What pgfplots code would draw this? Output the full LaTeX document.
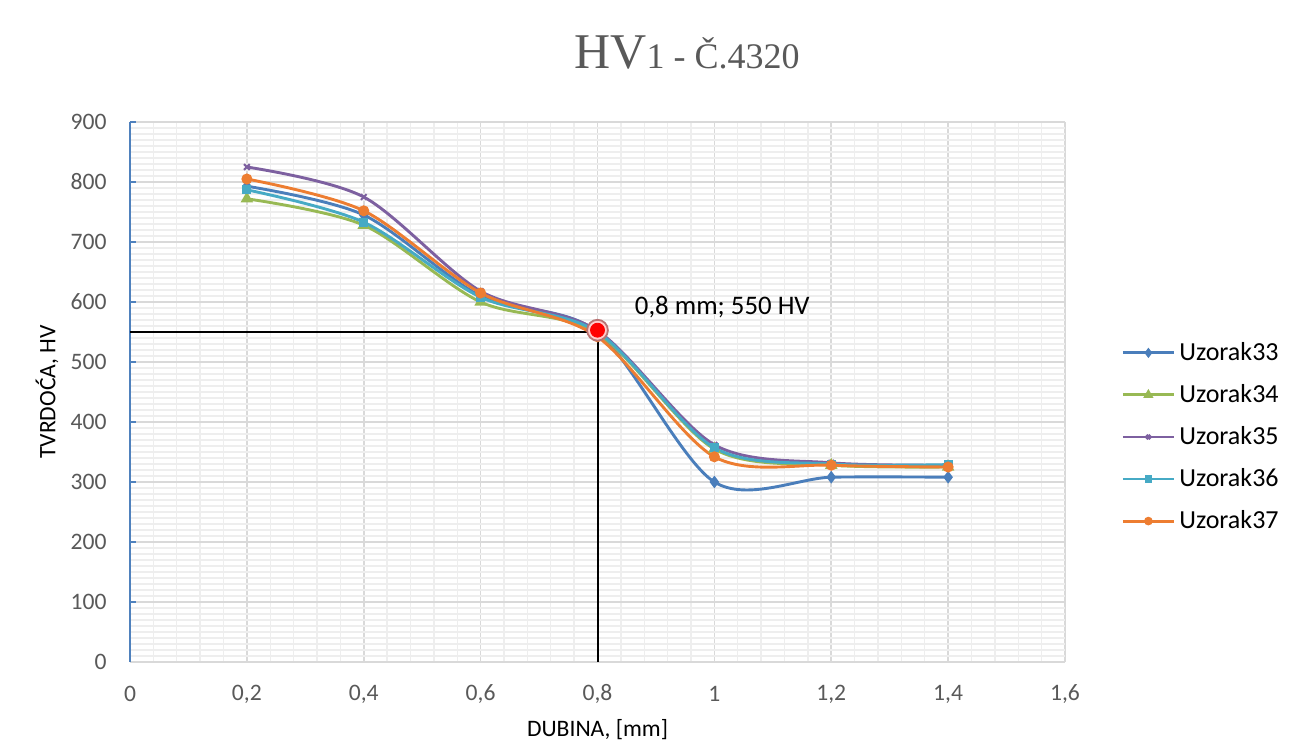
\documentclass[border=0pt]{standalone}
\usepackage{fontspec}
\setmainfont{Carlito}
\newfontfamily\titlefont{Liberation Serif}
\usepackage{pgfplots}
\pgfplotsset{compat=1.18}

\definecolor{c33}{RGB}{74,126,187}
\definecolor{c34}{RGB}{152,185,84}
\definecolor{c35}{RGB}{125,96,160}
\definecolor{c36}{RGB}{70,170,197}
\definecolor{c37}{RGB}{237,125,49}
\definecolor{txtgray}{RGB}{89,89,89}
\definecolor{majgrid}{RGB}{217,217,217}
\definecolor{mingrid}{RGB}{238,238,238}
\definecolor{yaxisblue}{RGB}{79,129,189}

\begin{document}
\begin{tikzpicture}
\path[use as bounding box] (-65pt,-42.5pt) rectangle (590pt,331pt);
\begin{axis}[
    scale only axis,
    width=467.5pt,
    height=270pt,
    xmin=0, xmax=1.6,
    ymin=0, ymax=900,
    xtick={0,0.2,...,1.6},
    ytick={0,100,...,900},
    minor x tick num=4,
    minor y tick num=9,
    grid=both,
    major grid style={draw=majgrid, line width=0.8pt},
    minor grid style={draw=mingrid, line width=0.7pt},
    axis lines=left,
    axis line style={-},
    x axis line style={draw=majgrid, line width=0.8pt},
    y axis line style={draw=yaxisblue, line width=0.9pt},
    tick align=inside,
    major tick length=3pt,
    minor tick length=0pt,
    xtick style={draw=none},
    ytick style={draw=yaxisblue, line width=0.9pt},
    /pgf/number format/assume math mode=true,
    /pgf/number format/use comma,
    ticklabel style={font=\fontsize{11.8}{14}\selectfont, text=txtgray},
    xticklabel style={anchor=center, yshift=-16pt},
    yticklabel style={anchor=east, inner sep=0pt, xshift=-11.5pt},
    xlabel={DUBINA, [mm]},
    ylabel={TVRDOĆA, HV},
    label style={font=\fontsize{11.8}{14}\selectfont},
    xlabel style={at={(axis description cs:0.5,-0.126)}, anchor=center},
    ylabel style={at={(axis description cs:-0.0888,0.5)}, anchor=center},
    title={\titlefont{\fontsize{25}{28}\selectfont HV}{\fontsize{18}{22}\selectfont 1 - Č.4320}},
    title style={at={(axis description cs:0.5957,1.1056)}, anchor=center, text=txtgray},
    legend style={at={(axis description cs:1.0535,0.4167)}, anchor=west,
        draw=none, fill=none, font=\fontsize{13}{15}\selectfont, row sep=6.5pt},
    legend cell align=left,
    legend image code/.code={\draw[#1, line width=1.45pt, mark repeat=2, mark phase=2, mark options={scale=0.7}] plot coordinates {(0pt,0pt) (12.75pt,0pt) (25.5pt,0pt)};},
    every axis plot/.append style={smooth},
]
% guide lines to the 0,8 mm / 550 HV point
\addplot[black, line width=1pt, sharp plot, forget plot] coordinates {(0,550) (0.8,550) (0.8,0)};

\addplot[c33, line width=1.45pt, mark=diamond*, mark size=2pt, mark options={solid}] coordinates {
(0.2,793) (0.4,745) (0.6,610) (0.8,550) (1.0,300) (1.2,308) (1.4,308)};
\addplot[c34, line width=1.45pt, mark=triangle*, mark size=2.2pt, mark options={solid}] coordinates {
(0.2,772) (0.4,728) (0.6,600) (0.8,548) (1.0,355) (1.2,328) (1.4,325)};
\addplot[c35, line width=1.45pt, mark=x, mark size=2pt, mark options={solid, line width=1pt}] coordinates {
(0.2,825) (0.4,775) (0.6,618) (0.8,552) (1.0,362) (1.2,332) (1.4,328)};
\addplot[c36, line width=1.45pt, mark=square*, mark size=1.5pt, mark options={solid}] coordinates {
(0.2,787) (0.4,733) (0.6,608) (0.8,550) (1.0,357) (1.2,330) (1.4,329)};
\addplot[c37, line width=1.45pt, mark=*, mark size=2pt, mark options={solid}] coordinates {
(0.2,805) (0.4,752) (0.6,615) (0.8,542) (1.0,342) (1.2,328) (1.4,325)};

% highlighted point
\addplot[only marks, mark=*, mark size=5.2pt, draw=red!50!black!55, fill=red!20, line width=0.9pt, forget plot] coordinates {(0.8,553)};
\addplot[only marks, mark=*, mark size=3.5pt, draw=red, fill=red, forget plot] coordinates {(0.8,553)};
\node[anchor=west, font=\fontsize{13.4}{16}\selectfont] at (axis cs:0.852,592) {0,8 mm; 550 HV};

\legend{Uzorak33, Uzorak34, Uzorak35, Uzorak36, Uzorak37}
\end{axis}
\end{tikzpicture}
\end{document}
